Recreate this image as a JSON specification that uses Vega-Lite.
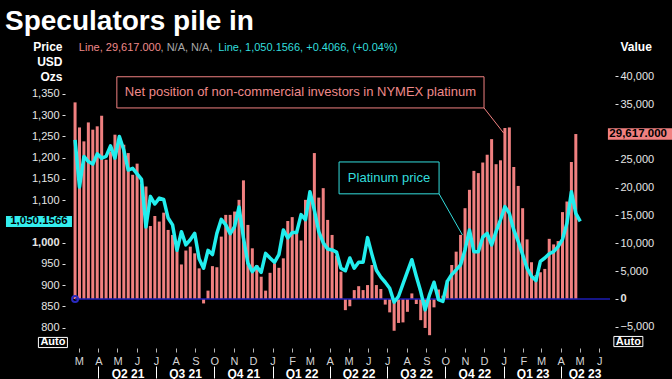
{
  "$schema": "https://vega.github.io/schema/vega-lite/v6.json",
  "width": 550,
  "height": 283,
  "autosize": "none",
  "padding": {"left": 65, "top": 62, "right": 57, "bottom": 34},
  "background": "#000000",
  "config": {"font": "Liberation Sans", "view": {"stroke": null}, "axis": {"grid": false, "domain": false}},
  "title": {"text": "Speculators pile in", "anchor": "start", "frame": "group", "dx": -60, "offset": 5, "fontSize": 28, "fontWeight": "bold", "color": "#ffffff", "font": "Liberation Sans"},
  "datasets": {
    "weekly": [
      {"date": "2021-02-23", "net": 35300, "price": 1242},
      {"date": "2021-03-02", "net": 30800, "price": 1131},
      {"date": "2021-03-09", "net": 28300, "price": 1203},
      {"date": "2021-03-16", "net": 31700, "price": 1191},
      {"date": "2021-03-23", "net": 30400, "price": 1185},
      {"date": "2021-03-30", "net": 31000, "price": 1209},
      {"date": "2021-04-06", "net": 32900, "price": 1199},
      {"date": "2021-04-13", "net": 25000, "price": 1203},
      {"date": "2021-04-20", "net": 26500, "price": 1228},
      {"date": "2021-04-27", "net": 29500, "price": 1199},
      {"date": "2021-05-04", "net": 29200, "price": 1250},
      {"date": "2021-05-11", "net": 27700, "price": 1218},
      {"date": "2021-05-18", "net": 26200, "price": 1171},
      {"date": "2021-05-25", "net": 22300, "price": 1175},
      {"date": "2021-06-01", "net": 24300, "price": 1162},
      {"date": "2021-06-08", "net": 20700, "price": 1149},
      {"date": "2021-06-15", "net": 20200, "price": 1037},
      {"date": "2021-06-22", "net": 13100, "price": 1109},
      {"date": "2021-06-29", "net": 14900, "price": 1091},
      {"date": "2021-07-06", "net": 13900, "price": 1105},
      {"date": "2021-07-13", "net": 15500, "price": 1102},
      {"date": "2021-07-20", "net": 12400, "price": 1058},
      {"date": "2021-07-27", "net": 11500, "price": 1042},
      {"date": "2021-08-03", "net": 8600, "price": 982},
      {"date": "2021-08-10", "net": 6200, "price": 1026},
      {"date": "2021-08-17", "net": 8700, "price": 995},
      {"date": "2021-08-24", "net": 9400, "price": 1007},
      {"date": "2021-08-31", "net": 8200, "price": 1022},
      {"date": "2021-09-07", "net": 5500, "price": 962},
      {"date": "2021-09-14", "net": -800, "price": 940},
      {"date": "2021-09-21", "net": 1500, "price": 982},
      {"date": "2021-09-28", "net": 5900, "price": 972},
      {"date": "2021-10-05", "net": 5700, "price": 1022},
      {"date": "2021-10-12", "net": 11200, "price": 1055},
      {"date": "2021-10-19", "net": 15100, "price": 1042},
      {"date": "2021-10-26", "net": 15100, "price": 1021},
      {"date": "2021-11-02", "net": 15700, "price": 1038},
      {"date": "2021-11-09", "net": 17800, "price": 1084},
      {"date": "2021-11-16", "net": 21300, "price": 1011},
      {"date": "2021-11-23", "net": 13300, "price": 952},
      {"date": "2021-11-30", "net": 9100, "price": 932},
      {"date": "2021-12-07", "net": 6100, "price": 944},
      {"date": "2021-12-14", "net": 4000, "price": 930},
      {"date": "2021-12-21", "net": 1500, "price": 975},
      {"date": "2021-12-28", "net": 4700, "price": 964},
      {"date": "2022-01-04", "net": 6400, "price": 954},
      {"date": "2022-01-11", "net": 5600, "price": 972},
      {"date": "2022-01-18", "net": 7300, "price": 1030},
      {"date": "2022-01-25", "net": 14000, "price": 1011},
      {"date": "2022-02-01", "net": 14700, "price": 1024},
      {"date": "2022-02-08", "net": 12100, "price": 1024},
      {"date": "2022-02-15", "net": 10500, "price": 1066},
      {"date": "2022-02-22", "net": 17800, "price": 1054},
      {"date": "2022-03-01", "net": 19000, "price": 1120},
      {"date": "2022-03-08", "net": 26200, "price": 1077},
      {"date": "2022-03-15", "net": 18200, "price": 1026},
      {"date": "2022-03-22", "net": 19900, "price": 1000},
      {"date": "2022-03-29", "net": 14200, "price": 985},
      {"date": "2022-04-05", "net": 11500, "price": 983},
      {"date": "2022-04-12", "net": 7800, "price": 978},
      {"date": "2022-04-19", "net": 4900, "price": 940},
      {"date": "2022-04-26", "net": -2000, "price": 934},
      {"date": "2022-05-03", "net": -1300, "price": 964},
      {"date": "2022-05-10", "net": 1600, "price": 940},
      {"date": "2022-05-17", "net": 2300, "price": 954},
      {"date": "2022-05-24", "net": 1600, "price": 954},
      {"date": "2022-05-31", "net": 2500, "price": 1012},
      {"date": "2022-06-07", "net": 6100, "price": 972},
      {"date": "2022-06-14", "net": 2500, "price": 935},
      {"date": "2022-06-21", "net": 1800, "price": 919},
      {"date": "2022-06-28", "net": -1000, "price": 907},
      {"date": "2022-07-05", "net": -2400, "price": 893},
      {"date": "2022-07-12", "net": -5700, "price": 860},
      {"date": "2022-07-19", "net": -4300, "price": 874},
      {"date": "2022-07-26", "net": -4200, "price": 903},
      {"date": "2022-08-02", "net": -2300, "price": 932},
      {"date": "2022-08-09", "net": 1000, "price": 960},
      {"date": "2022-08-16", "net": -900, "price": 921},
      {"date": "2022-08-23", "net": -3800, "price": 885},
      {"date": "2022-08-30", "net": -5200, "price": 842},
      {"date": "2022-09-06", "net": -6500, "price": 878},
      {"date": "2022-09-13", "net": -1500, "price": 907},
      {"date": "2022-09-20", "net": 1700, "price": 866},
      {"date": "2022-09-27", "net": 600, "price": 862},
      {"date": "2022-10-04", "net": 3400, "price": 909},
      {"date": "2022-10-11", "net": 6100, "price": 925},
      {"date": "2022-10-18", "net": 8500, "price": 936},
      {"date": "2022-10-25", "net": 11500, "price": 948},
      {"date": "2022-11-01", "net": 16300, "price": 983},
      {"date": "2022-11-08", "net": 19600, "price": 1030},
      {"date": "2022-11-15", "net": 23000, "price": 979},
      {"date": "2022-11-22", "net": 22600, "price": 979},
      {"date": "2022-11-29", "net": 24500, "price": 1013},
      {"date": "2022-12-06", "net": 25900, "price": 1022},
      {"date": "2022-12-13", "net": 28700, "price": 995},
      {"date": "2022-12-20", "net": 24200, "price": 1026},
      {"date": "2022-12-27", "net": 24900, "price": 1054},
      {"date": "2023-01-03", "net": 30700, "price": 1085},
      {"date": "2023-01-10", "net": 30800, "price": 1069},
      {"date": "2023-01-17", "net": 23700, "price": 1030},
      {"date": "2023-01-24", "net": 20300, "price": 1003},
      {"date": "2023-01-31", "net": 16300, "price": 972},
      {"date": "2023-02-07", "net": 10700, "price": 940},
      {"date": "2023-02-14", "net": 6600, "price": 921},
      {"date": "2023-02-21", "net": 4300, "price": 911},
      {"date": "2023-02-28", "net": 4800, "price": 956},
      {"date": "2023-03-07", "net": 5400, "price": 964},
      {"date": "2023-03-14", "net": 10800, "price": 974},
      {"date": "2023-03-21", "net": 9800, "price": 979},
      {"date": "2023-03-28", "net": 10400, "price": 991},
      {"date": "2023-04-04", "net": 15600, "price": 1008},
      {"date": "2023-04-11", "net": 17500, "price": 1046},
      {"date": "2023-04-18", "net": 24600, "price": 1120},
      {"date": "2023-04-25", "net": 29617, "price": 1069},
      {"date": "2023-05-02", "net": null, "price": 1050.1566}
    ]
  },
  "layer": [
    {
      "layer": [
        {
          "data": {"name": "weekly"},
          "mark": {"type": "bar", "color": "#f08080", "width": 3},
          "encoding": {
            "x": {"field": "date", "type": "temporal",
              "scale": {"type": "utc", "domain": [{"year": 2021, "month": 2, "date": 15, "utc": true}, {"year": 2023, "month": 6, "date": 18, "utc": true}]},
              "axis": {"orient": "bottom", "title": null, "tickCount": {"interval": "month", "step": 1}, "labelExpr": "substring(utcFormat(datum.value, '%b'), 0, 1)", "offset": 3, "tickSize": 4, "tickColor": "#b4b4b4", "labelPadding": 3, "labelFontSize": 11, "labelColor": "#d4d4d4", "labelFlush": false, "labelOverlap": false}},
            "y": {"field": "net", "type": "quantitative",
              "scale": {"domain": [-8259, 42549], "nice": false, "zero": false},
              "axis": {"orient": "right", "tickCount": 10, "format": ",.0f", "labelExpr": "datum.value === 30000 ? '' : datum.label", "tickSize": 3, "tickColor": "#e0e0e0", "labelPadding": 2, "labelFontSize": 11, "labelColor": "#e6e6e6", "labelOverlap": false, "labelFlush": false,
                "tickOpacity": {"condition": {"test": "datum.value === 30000", "value": 0}, "value": 1},
                "labelFontWeight": {"condition": {"test": "datum.value === 0", "value": "bold"}, "value": "normal"},
                "title": "Value", "titleAngle": 0, "titleAlign": "left", "titleBaseline": "alphabetic", "titleX": 5, "titleY": -11.5, "titleFontSize": 12, "titleFontWeight": "bold", "titleColor": "#ffffff"}}
          }
        },
        {
          "data": {"values": [{}]},
          "mark": {"type": "rule", "color": "#1c1cb4", "strokeWidth": 1.5},
          "encoding": {
            "x": {"datum": {"year": 2021, "month": 2, "date": 23, "utc": true}, "type": "temporal"},
            "x2": {"datum": {"year": 2023, "month": 6, "date": 18, "utc": true}},
            "y": {"datum": 0, "type": "quantitative"}
          }
        },
        {
          "data": {"values": [{}]},
          "mark": {"type": "point", "shape": "circle", "size": 36, "filled": false, "color": "#2a2ac0", "strokeWidth": 2, "opacity": 1},
          "encoding": {
            "x": {"datum": {"year": 2021, "month": 2, "date": 23, "utc": true}, "type": "temporal"},
            "y": {"datum": 0, "type": "quantitative"}
          }
        },
        {
          "data": {"values": [{}]},
          "mark": {"type": "rect", "fill": "#000000", "stroke": "#f08080", "strokeWidth": 1},
          "encoding": {
            "x": {"datum": {"year": 2021, "month": 4, "date": 30, "utc": true}, "type": "temporal"},
            "x2": {"datum": {"year": 2022, "month": 12, "date": 1, "utc": true}},
            "y": {"datum": 39900, "type": "quantitative"},
            "y2": {"datum": 34300}
          }
        },
        {
          "data": {"values": [{}]},
          "mark": {"type": "text", "text": "Net position of non-commercial investors in NYMEX platinum", "color": "#f08a8a", "fontSize": 13, "align": "center", "baseline": "middle"},
          "encoding": {
            "x": {"datum": {"year": 2022, "month": 2, "date": 14, "utc": true}, "type": "temporal"},
            "y": {"datum": 37100, "type": "quantitative"}
          }
        },
        {
          "data": {"values": [{}]},
          "mark": {"type": "rule", "color": "#f08080", "strokeWidth": 1},
          "encoding": {
            "x": {"datum": {"year": 2022, "month": 12, "date": 1, "utc": true}, "type": "temporal"},
            "x2": {"datum": {"year": 2023, "month": 1, "date": 1, "utc": true}},
            "y": {"datum": 34300, "type": "quantitative"},
            "y2": {"datum": 29800}
          }
        },
        {
          "data": {"values": [{}]},
          "mark": {"type": "point", "shape": "M-1,-0.166H1V0.166H-1Z", "size": 4900, "filled": true, "color": "#f08080", "opacity": 1},
          "encoding": {
            "x": {"datum": {"year": 2023, "month": 8, "date": 9, "utc": true}, "type": "temporal"},
            "y": {"datum": 29617, "type": "quantitative"}
          }
        },
        {
          "data": {"values": [{}]},
          "mark": {"type": "text", "text": "29,617.000", "color": "#000000", "fontSize": 11.5, "fontWeight": "bold", "align": "left", "baseline": "middle"},
          "encoding": {
            "x": {"datum": {"year": 2023, "month": 6, "date": 17, "utc": true}, "type": "temporal"},
            "y": {"datum": 29617, "type": "quantitative"}
          }
        }
      ]
    },
    {
      "layer": [
        {
          "data": {"name": "weekly"},
          "mark": {"type": "line", "color": "#22eeee", "strokeWidth": 3.5, "strokeJoin": "round"},
          "encoding": {
            "x": {"field": "date", "type": "temporal",
              "scale": {"type": "utc", "domain": [{"year": 2021, "month": 2, "date": 15, "utc": true}, {"year": 2023, "month": 6, "date": 18, "utc": true}]},
              "axis": {"orient": "bottom", "title": null, "tickCount": {"interval": "month", "step": 3}, "labelExpr": "'Q' + (floor(utcmonth(datum.value) / 3) + 1) + ' ' + utcFormat(datum.value, '%y')", "offset": 21, "tickSize": 12, "tickColor": "#ffffff", "tickWidth": 1, "labelPadding": -10, "labelFontSize": 12, "labelFontWeight": "bold", "labelColor": "#ffffff", "labelFlush": false, "labelOverlap": false,
                "labelOffset": {"condition": {"test": "datum.value >= utc(2023, 2, 15)", "value": 24}, "value": 29}}},
            "y": {"field": "price", "type": "quantitative",
              "scale": {"domain": [759.3, 1425.2], "nice": false, "zero": false},
              "axis": {"orient": "left", "tickCount": 14, "format": ",.0f", "labelExpr": "datum.value > 1375 || datum.value === 1050 ? '' : datum.label", "tickSize": 3, "tickColor": "#e0e0e0", "labelPadding": 3, "labelFontSize": 11, "labelColor": "#e6e6e6", "labelOverlap": false, "labelFlush": false,
                "tickOpacity": {"condition": {"test": "datum.value > 1375 || datum.value === 1050", "value": 0}, "value": 1},
                "labelFontWeight": {"condition": {"test": "datum.value === 1000", "value": "bold"}, "value": "normal"},
                "title": ["Price", "USD", "Ozs"], "titleAngle": 0, "titleAlign": "right", "titleBaseline": "alphabetic", "titleX": -3, "titleY": -11.5, "titleFontSize": 12, "titleFontWeight": "bold", "titleColor": "#ffffff", "titleLineHeight": 15}}
          }
        },
        {
          "data": {"values": [{}]},
          "mark": {"type": "rect", "fill": "#000000", "stroke": "#33dddd", "strokeWidth": 1},
          "encoding": {
            "x": {"datum": {"year": 2022, "month": 4, "date": 16, "utc": true}, "type": "temporal"},
            "x2": {"datum": {"year": 2022, "month": 9, "date": 21, "utc": true}},
            "y": {"datum": 1190, "type": "quantitative"},
            "y2": {"datum": 1115}
          }
        },
        {
          "data": {"values": [{}]},
          "mark": {"type": "text", "text": "Platinum price", "color": "#33dddd", "fontSize": 13, "align": "center", "baseline": "middle"},
          "encoding": {
            "x": {"datum": {"year": 2022, "month": 7, "date": 4, "utc": true}, "type": "temporal"},
            "y": {"datum": 1152, "type": "quantitative"}
          }
        },
        {
          "data": {"values": [{}]},
          "mark": {"type": "rule", "color": "#33dddd", "strokeWidth": 1},
          "encoding": {
            "x": {"datum": {"year": 2022, "month": 9, "date": 21, "utc": true}, "type": "temporal"},
            "x2": {"datum": {"year": 2022, "month": 10, "date": 28, "utc": true}},
            "y": {"datum": 1115, "type": "quantitative"},
            "y2": {"datum": 1018}
          }
        },
        {
          "data": {"values": [{}]},
          "mark": {"type": "point", "shape": "M-1,-0.167H1V0.167H-1Z", "size": 4356, "filled": true, "color": "#33eeee", "opacity": 1},
          "encoding": {
            "x": {"datum": {"year": 2020, "month": 12, "date": 28, "utc": true}, "type": "temporal"},
            "y": {"datum": 1050.1566, "type": "quantitative"}
          }
        },
        {
          "data": {"values": [{}]},
          "mark": {"type": "text", "text": "1,050.1566", "color": "#000000", "fontSize": 11.5, "fontWeight": "bold", "align": "center", "baseline": "middle"},
          "encoding": {
            "x": {"datum": {"year": 2020, "month": 12, "date": 28, "utc": true}, "type": "temporal"},
            "y": {"datum": 1050.1566, "type": "quantitative"}
          }
        },
        {
          "data": {"values": [{}]},
          "mark": {"type": "text", "text": "Line, 29,617.000", "color": "#f08a8a", "fontSize": 11, "align": "left", "baseline": "alphabetic"},
          "encoding": {
            "x": {"datum": {"year": 2021, "month": 3, "date": 1, "utc": true}, "type": "temporal"},
            "y": {"datum": 1452, "type": "quantitative"}
          }
        },
        {
          "data": {"values": [{}]},
          "mark": {"type": "text", "text": ", N/A, N/A,", "color": "#a8a8a8", "fontSize": 11, "align": "left", "baseline": "alphabetic"},
          "encoding": {
            "x": {"datum": {"year": 2021, "month": 7, "date": 8, "utc": true}, "type": "temporal"},
            "y": {"datum": 1452, "type": "quantitative"}
          }
        },
        {
          "data": {"values": [{}]},
          "mark": {"type": "text", "text": "Line, 1,050.1566, +0.4066, (+0.04%)", "color": "#33dddd", "fontSize": 11, "align": "left", "baseline": "alphabetic"},
          "encoding": {
            "x": {"datum": {"year": 2021, "month": 10, "date": 7, "utc": true}, "type": "temporal"},
            "y": {"datum": 1452, "type": "quantitative"}
          }
        },
        {
          "data": {"values": [{}]},
          "mark": {"type": "point", "shape": "M-1,-0.35H1V0.35H-1Z", "size": 841, "filled": false, "color": "#ffffff", "strokeWidth": 1, "opacity": 1},
          "encoding": {
            "x": {"datum": {"year": 2021, "month": 1, "date": 19, "utc": true}, "type": "temporal"},
            "y": {"datum": 765.2, "type": "quantitative"}
          }
        },
        {
          "data": {"values": [{}]},
          "mark": {"type": "text", "text": "Auto", "color": "#ffffff", "fontSize": 11, "fontWeight": "bold", "align": "center", "baseline": "middle"},
          "encoding": {
            "x": {"datum": {"year": 2021, "month": 1, "date": 19, "utc": true}, "type": "temporal"},
            "y": {"datum": 765.2, "type": "quantitative"}
          }
        },
        {
          "data": {"values": [{}]},
          "mark": {"type": "point", "shape": "M-1,-0.35H1V0.35H-1Z", "size": 841, "filled": false, "color": "#ffffff", "strokeWidth": 1, "opacity": 1},
          "encoding": {
            "x": {"datum": {"year": 2023, "month": 7, "date": 17, "utc": true}, "type": "temporal"},
            "y": {"datum": 767.5, "type": "quantitative"}
          }
        },
        {
          "data": {"values": [{}]},
          "mark": {"type": "text", "text": "Auto", "color": "#ffffff", "fontSize": 11, "fontWeight": "bold", "align": "center", "baseline": "middle"},
          "encoding": {
            "x": {"datum": {"year": 2023, "month": 7, "date": 17, "utc": true}, "type": "temporal"},
            "y": {"datum": 767.5, "type": "quantitative"}
          }
        }
      ]
    }
  ],
  "resolve": {"scale": {"y": "independent"}, "axis": {"x": "independent", "y": "independent"}}
}
